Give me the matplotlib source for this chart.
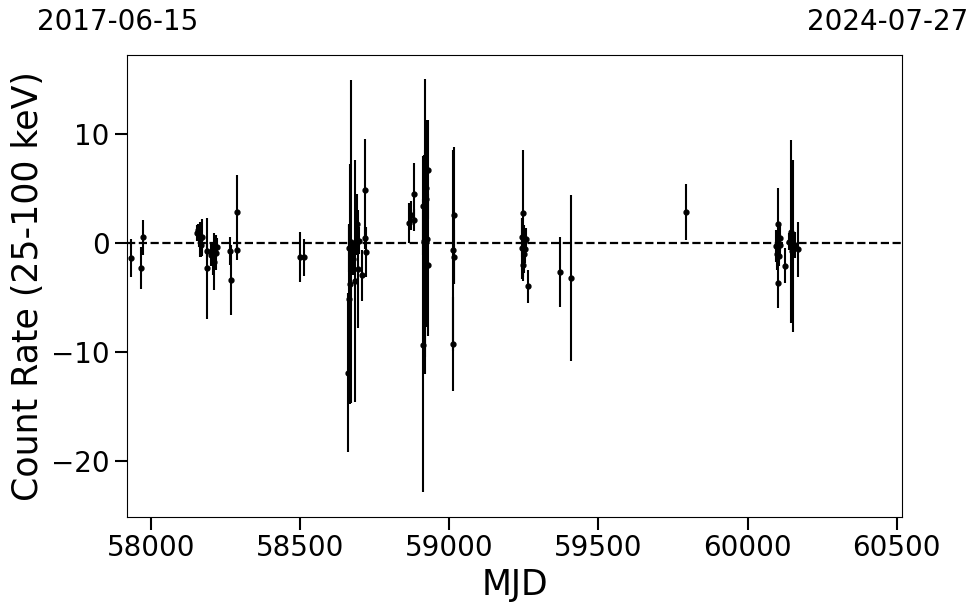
import matplotlib
matplotlib.use("Agg")
import matplotlib.pyplot as plt
import numpy as np

# MJD, count rate, error
mjd = [57933, 57966, 57974,
       58153, 58156, 58160, 58163, 58166, 58170, 58186, 58188, 58200, 58208, 58212, 58216, 58222, 58266, 58268, 58289, 58289,
       58499, 58514,
       58661, 58662, 58664, 58667, 58669, 58676, 58683, 58690, 58693, 58697, 58706, 58717, 58718, 58719,
       58866, 58872, 58880, 58882,
       58910, 58912, 58915, 58917, 58919, 58921, 58923, 58925, 58927, 58929,
       59012, 59013, 59014, 59016,
       59242, 59244, 59246, 59248, 59250, 59252, 59254, 59256, 59264,
       59371, 59408,
       59794,
       60097, 60099, 60101, 60103, 60103, 60105, 60108, 60110, 60125, 60140, 60145, 60148, 60153, 60160, 60168]
rate = [-1.4, -2.3, 0.5,
        0.9, 1.2, 0.6, 0.3, -0.2, 0.5, -0.8, -2.35, -1.1, -1.5, -1.75, -0.9, -0.35, -0.75, -3.4, 2.85, -0.7,
        -1.3, -1.35,
        -11.9, -5.2, -0.5, -3.8, 0.1, -1.5, -3.5, 1.7, -2.4, 0.2, -3.0, 4.8, 0.4, -0.85,
        1.8, 2.5, 2.1, 4.5,
        -9.4, 3.4, 0.2, 1.5, -1.0, 4.0, 5.0, 0.3, -2.0, 6.7,
        -9.3, -0.7, -1.3, 2.5,
        0.5, -0.5, -2.05, 2.7, 0.2, -1.0, -0.6, 0.35, -4.0,
        -2.7, -3.25,
        2.8,
        -0.3, -1.0, 0.0, 1.7, -3.7, -1.2, -0.2, 0.45, -2.1, 0.1, 1.0, -0.8, -0.3, -0.2, -0.6]
err = [1.7, 1.9, 1.6,
       0.7, 0.5, 1.0, 1.6, 1.1, 1.7, 0.8, 4.6, 1.0, 1.5, 2.6, 1.6, 0.8, 1.3, 3.2, 3.35, 0.9,
       2.3, 1.7,
       7.3, 6.8, 2.2, 11.0, 14.8, 1.5, 11.1, 2.8, 5.4, 1.2, 2.3, 4.7, 1.0, 2.3,
       1.8, 1.3, 1.0, 2.8,
       13.4, 4.5, 7.8, 13.5, 9.5, 7.2, 6.0, 8.0, 6.5, 4.5,
       4.3, 9.2, 2.5, 6.3,
       1.8, 2.8, 1.5, 5.8, 1.4, 1.8, 1.3, 1.0, 1.5,
       3.2, 7.6,
       2.55,
       1.5, 1.5, 1.0, 3.3, 2.3, 0.9, 1.0, 1.2, 1.6, 0.8, 8.4, 1.5, 7.9, 1.2, 2.5]

xlim = (57919, 60518)
ylim = (-25.1, 17.2)
start_label = "2017-06-15"
end_label = "2024-07-27"

fig = plt.figure(figsize=(9.8, 6.13), dpi=100)
ax = fig.add_axes([0.1296, 0.1571, 0.7908, 0.7532])
ax.errorbar(mjd, rate, yerr=err, fmt='o', color='black', ms=3.5, elinewidth=1.5, capsize=0)
ax.axhline(0, color='black', ls='--', lw=1.6)
ax.set_xlim(*xlim)
ax.set_ylim(*ylim)
ax.set_xticks([58000, 58500, 59000, 59500, 60000, 60500])
ax.set_yticks([-20, -10, 0, 10])
ax.tick_params(labelsize=20, length=9, width=1.5)
ax.set_xlabel("MJD", fontsize=25)
ax.set_ylabel("Count Rate (25-100 keV)", fontsize=25)
fig.text(118/980, 1 - 22/613, start_label, fontsize=20, ha='center', va='center')
fig.text(888/980, 1 - 22/613, end_label, fontsize=20, ha='center', va='center')
fig.savefig("out.png", dpi=100)
